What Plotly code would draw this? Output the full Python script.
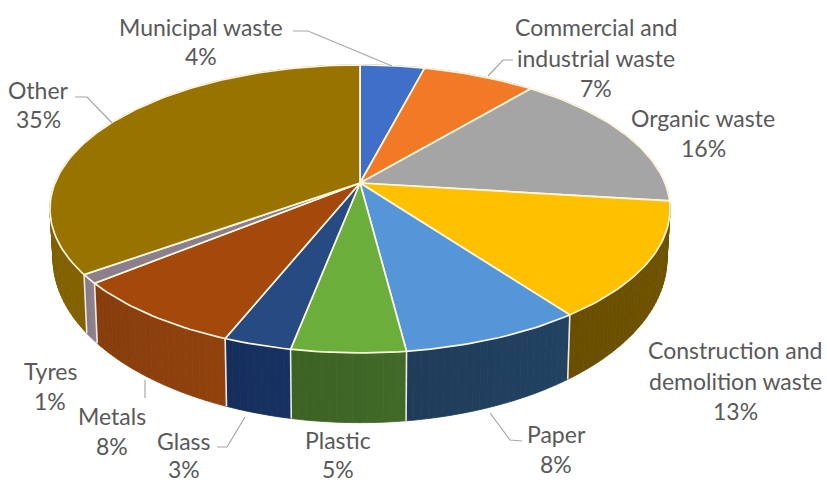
import numpy as np
import plotly.graph_objects as go

# Waste composition, percent of total
categories = ["Municipal waste", "Commercial and industrial waste", "Organic waste",
              "Construction and demolition waste", "Paper", "Plastic", "Glass",
              "Metals", "Tyres", "Other"]
shares = [4, 7, 16, 13, 8, 5, 3, 8, 1, 35]

top_colors = ["#3F6FC6", "#F27A26", "#A5A5A5", "#FFC000", "#5596D8",
              "#6CAE3C", "#264A82", "#A5480C", "#8C7F8C", "#997300"]
wall_colors = ["#264478", "#8a4a1c", "#666666", "#6e5200", "#21405f",
               "#3f6626", "#16305f", "#8c400d", "#8A7F8A", "#7d5e00"]

# Label text lines and their centre positions
label_lines = [
    ("Municipal waste", 201, 27), ("4%", 201, 56),
    ("Commercial and", 596, 27), ("industrial waste", 596, 58), ("7%", 596, 88),
    ("Organic waste", 703, 118), ("16%", 703, 148),
    ("Construction and", 735, 350), ("demolition waste", 735, 381), ("13%", 735, 411),
    ("Paper", 556, 434), ("8%", 556, 464),
    ("Plastic", 338, 440), ("5%", 338, 469),
    ("Glass", 184, 441), ("3%", 184, 469),
    ("Metals", 112, 416), ("8%", 112, 446),
    ("Tyres", 50, 371), ("1%", 50, 401),
    ("Other", 38, 90), ("35%", 38, 119),
]
leader_paths = [
    [(293, 31), (308, 31), (392, 66)],
    [(513, 60), (503, 60), (488, 76)],
    [(75, 97), (87, 97), (112, 123)],
    [(145, 380), (145, 398)],
    [(217, 447), (227, 447), (245, 417)],
    [(490, 413), (510, 440), (522, 441)],
]

# Perspective disc: centre, radius, vertical scale and foreshortening
CX, CY, RX, RY, K = 360.0, 183.0, 305.0, 139.3, 0.18
# The lower rim sits further down and is drawn on a slightly different scale
BOTTOM = dict(drop=46.0, xscale=0.99, yscale=1.14)


def rim(pct, drop=0.0, xscale=1.0, yscale=1.0):
    """Project a position on the rim (percent clockwise from 12 o'clock)."""
    a = np.radians(np.asarray(pct, dtype=float) * 3.6)
    X, Y = np.sin(a), np.cos(a)
    w = 1 + K * Y
    return CX + xscale * RX * X / w, CY + drop - yscale * RY * Y / w


def shade(hex_color, f):
    rgb = [int(hex_color[i:i + 2], 16) for i in (1, 3, 5)]
    return "rgb({},{},{})".format(*[int(min(255, c * f)) for c in rgb])


edges = np.concatenate([[0], np.cumsum(shares)]).astype(float)
fig = go.Figure()

# Side wall, drawn as thin vertical strips so each slice carries a soft gradient
for i in range(len(shares)):
    lo, hi = edges[i], edges[i + 1]
    n = max(3, int((hi - lo) * 3))
    cuts = np.linspace(lo, hi, n + 1)
    for j in range(n):
        p = np.linspace(cuts[j], cuts[j + 1], 3)
        tx, ty = rim(p)
        bx, by = rim(p[::-1], **BOTTOM)
        t = (j + 0.5) / n
        col = shade(wall_colors[i], 1.04 - 0.08 * t)
        fig.add_trace(go.Scatter(
            x=np.r_[tx, bx, tx[0]], y=np.r_[ty, by, ty[0]], mode="lines",
            fill="toself", fillcolor=col, line=dict(color=col, width=0.8),
            hoverinfo="skip", showlegend=False))

# Light seams where two slices meet on the visible part of the wall
for e in edges[:-1]:
    if np.cos(np.radians(e * 3.6)) < -0.3:
        tx, ty = rim(e)
        bx, by = rim(e, **BOTTOM)
        fig.add_trace(go.Scatter(x=[tx, bx], y=[ty, by], mode="lines",
                                 line=dict(color="#efe9e4", width=1.6),
                                 hoverinfo="skip", showlegend=False))

# Top face
for i, name in enumerate(categories):
    p = np.linspace(edges[i], edges[i + 1], max(8, int(shares[i] * 3)))
    x, y = rim(p)
    fig.add_trace(go.Scatter(
        x=np.r_[CX, x, CX], y=np.r_[CY, y, CY], mode="lines", name=name,
        fill="toself", fillcolor=top_colors[i],
        line=dict(color="#fff6e0", width=1.7), hoverinfo="skip", showlegend=False))

# Leader lines from labels to their slices
for path in leader_paths:
    fig.add_trace(go.Scatter(x=[q[0] for q in path], y=[q[1] for q in path], mode="lines",
                             line=dict(color="#a6a6a6", width=1.2),
                             hoverinfo="skip", showlegend=False))

for text, x, y in label_lines:
    fig.add_annotation(x=x, y=y, text=text, showarrow=False, xanchor="center", yanchor="middle",
                       font=dict(family="Lato", size=23, color="#595959"))

fig.update_layout(
    width=827, height=485, margin=dict(l=0, r=0, t=0, b=0),
    paper_bgcolor="white", plot_bgcolor="white", showlegend=False,
    xaxis=dict(range=[0, 827], visible=False, fixedrange=True),
    yaxis=dict(range=[485, 0], visible=False, fixedrange=True),
)
fig.write_html("out.html", config=dict(displayModeBar=False))
